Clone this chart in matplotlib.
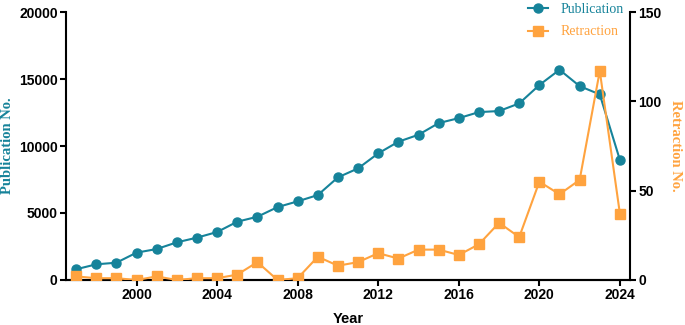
import matplotlib.pyplot as plt

years = list(range(1997, 2025))
publications = [800, 1170, 1290, 2040, 2310, 2810, 3160, 3580, 4350, 4720,
                5440, 5870, 6340, 7660, 8330, 9450, 10320, 10840, 11710, 12080,
                12530, 12610, 13180, 14550, 15690, 14470, 13850, 8950]
retractions = [2, 1, 1, 0, 2, 0, 1, 1, 3, 10, 0, 1, 13, 8, 10, 15, 12, 17, 17, 14,
               20, 32, 24, 55, 48, 56, 117, 37]

teal = '#16839a'
orange = '#ffa33f'

fig = plt.figure(figsize=(6.85, 3.25), dpi=100)
ax = fig.add_axes([0.0964, 0.1385, 0.8233, 0.8245])
ax2 = ax.twinx()

l1, = ax.plot(years, publications, color=teal, marker='o', markersize=6.5, lw=1.5, label='Publication', zorder=3)
l2, = ax2.plot(years, retractions, color=orange, marker='s', markersize=6.5, lw=1.5, label='Retraction', zorder=3)

ax.set_xlim(1996.5, 2024.5)
ax.set_ylim(0, 20000)
ax2.set_ylim(0, 150)
ax.set_xticks([2000, 2004, 2008, 2012, 2016, 2020, 2024])
ax.set_yticks([0, 5000, 10000, 15000, 20000])
ax2.set_yticks([0, 50, 100, 150])

for a in (ax, ax2):
    a.spines['top'].set_visible(False)
    for s in a.spines.values():
        s.set_linewidth(1.5)
    a.tick_params(width=1.5, length=4, pad=2)
    for t in a.get_xticklabels() + a.get_yticklabels():
        t.set_fontfamily('Liberation Sans')
        t.set_fontweight('bold')
        t.set_fontsize(10)
ax.spines['right'].set_visible(False)
ax2.spines['left'].set_visible(False)

ax.set_xlabel('Year', fontfamily='Liberation Sans', fontweight='bold', fontsize=10.5)
ax.xaxis.set_label_coords(0.5, -0.12)
ax.set_ylabel('Publication No.', color=teal, fontfamily='Liberation Serif', fontweight='bold', fontsize=10.5)
ax.yaxis.set_label_coords(-0.092, 0.5)
ax2.set_ylabel('Retraction No.', color=orange, fontfamily='Liberation Serif', fontweight='bold',
               fontsize=10.5, rotation=270)
ax2.yaxis.set_label_coords(1.092, 0.5)

leg = fig.legend(handles=[l1, l2], loc='upper left', bbox_to_anchor=(0.752, 1.03), frameon=False,
                 prop={'family': 'Liberation Serif', 'size': 10}, handlelength=1.5, handletextpad=0.9,
                 labelspacing=0.7)
for txt, c in zip(leg.get_texts(), (teal, orange)):
    txt.set_color(c)

fig.savefig('out.png', dpi=100)
